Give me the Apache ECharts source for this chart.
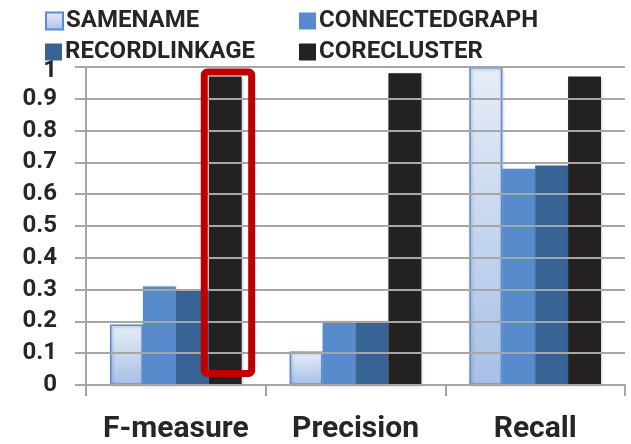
<!DOCTYPE html>
<html>
<head>
<meta charset="utf-8">
<script src="https://cdn.jsdelivr.net/npm/echarts@6/dist/echarts.min.js"></script>
<style>
  html, body { margin: 0; padding: 0; background: #ffffff; }
  #chart { width: 631px; height: 444px; }
</style>
</head>
<body>
<div id="chart"></div>
<script>
// Metrics on the x axis
const categories = ['F-measure', 'Precision', 'Recall'];

// Scores per method
const sameName       = [0.19, 0.105, 1.0];
const connectedGraph = [0.31, 0.20, 0.68];
const recordLinkage  = [0.30, 0.20, 0.69];
const coreCluster    = [0.97, 0.98, 0.97];

// Value axis ticks
const yTicks = ['0', '0.1', '0.2', '0.3', '0.4', '0.5', '0.6', '0.7', '0.8', '0.9', '1'];

// Bar emphasised with a red frame: F-measure of CORECLUSTER
const highlight = [[0, coreCluster[0]]];

const FONT = 'Roboto';
const TEXT = '#262626';
const GAP = 0.267;          // barCategoryGap as a fraction
const N_SERIES = 4;

const chart = echarts.init(document.getElementById('chart'), null, { renderer: 'canvas' });

const shadow = { shadowColor: 'rgba(0,0,0,0.25)', shadowBlur: 3, shadowOffsetX: 1, shadowOffsetY: 1 };

function legendAt(name, left, top) {
  return {
    data: [name], left: left, top: top, padding: 0,
    itemWidth: 17, itemHeight: 17, itemGap: 0,
    icon: 'rect', selectedMode: false,
    textStyle: { fontFamily: FONT, fontWeight: 'bold', fontSize: 24, color: TEXT, padding: [0, 0, 0, -2] }
  };
}

const option = {
  animation: false,
  backgroundColor: '#ffffff',
  legend: [
    legendAt('SAMENAME', 45, 9),
    legendAt('CONNECTEDGRAPH', 299, 9),
    legendAt('RECORDLINKAGE', 45, 40),
    legendAt('CORECLUSTER', 299, 40)
  ],
  grid: { left: 86, right: 6, top: 67, bottom: 59, containLabel: false },
  xAxis: {
    type: 'category',
    data: categories,
    axisLine: { show: true, lineStyle: { color: '#a6a6a6', width: 2 } },
    axisTick: { show: true, length: 11, lineStyle: { color: '#a6a6a6', width: 2 } },
    axisLabel: { interval: 0, fontFamily: FONT, fontWeight: 'bold', fontSize: 30, color: TEXT, margin: 29 },
    splitLine: { show: false }
  },
  yAxis: {
    type: 'value',
    z: 6,
    min: 0, max: 1, interval: 0.1,
    axisLine: { show: true, lineStyle: { color: '#a6a6a6', width: 2 } },
    axisTick: { show: true, length: 11, lineStyle: { color: '#a6a6a6', width: 2 } },
    axisLabel: {
      fontFamily: FONT, fontWeight: 'bold', fontSize: 24, color: TEXT, margin: 29,
      formatter: (v) => {
        const i = Math.round(v * 10);
        // the topmost label sits a little lower, clear of the legend
        return i === yTicks.length - 1 ? '{top|' + yTicks[i] + '}' : yTicks[i];
      },
      rich: {
        top: { fontFamily: FONT, fontWeight: 'bold', fontSize: 24, color: TEXT, padding: [8, 0, 0, 0] }
      }
    },
    splitLine: { show: true, lineStyle: { color: '#a6a6a6', width: 2 } }
  },
  series: [
    {
      name: 'SAMENAME', type: 'bar', data: sameName,
      barGap: '0%', barCategoryGap: (GAP * 100) + '%',
      itemStyle: Object.assign({
        color: new echarts.graphic.LinearGradient(0, 0, 0, 1, [
          { offset: 0, color: '#e6edf8' },
          { offset: 1, color: '#a7c0e5' }
        ]),
        borderColor: '#5b8bd0', borderWidth: 1.5
      }, shadow)
    },
    {
      name: 'CONNECTEDGRAPH', type: 'bar', data: connectedGraph,
      barGap: '0%', barCategoryGap: (GAP * 100) + '%',
      itemStyle: Object.assign({ color: '#578bcc' }, shadow)
    },
    {
      name: 'RECORDLINKAGE', type: 'bar', data: recordLinkage,
      barGap: '0%', barCategoryGap: (GAP * 100) + '%',
      itemStyle: Object.assign({ color: '#376395' }, shadow)
    },
    {
      name: 'CORECLUSTER', type: 'bar', data: coreCluster,
      barGap: '0%', barCategoryGap: (GAP * 100) + '%',
      itemStyle: Object.assign({ color: '#242122' }, shadow)
    },
    {
      // Red frame drawn around the emphasised bar, located from its own value
      type: 'custom',
      silent: true,
      z: 10,
      data: highlight,
      renderItem: function (params, api) {
        const cat = api.value(0);
        const top = api.coord([cat, api.value(1)]);
        const base = api.coord([cat, 0]);
        const band = api.size([1, 0])[0];
        const barW = band * (1 - GAP) / N_SERIES;
        const seriesIdx = 3;
        const left = top[0] - 2 * barW + seriesIdx * barW;
        const right = left + barW;
        return {
          type: 'rect',
          shape: {
            x: left - 4.5,
            y: top[1] - 4.5,
            width: (right + 10) - (left - 4.5),
            height: (base[1] - 11.5) - (top[1] - 4.5),
            r: 3
          },
          style: { fill: null, stroke: '#c00000', lineWidth: 7 }
        };
      }
    }
  ]
};

chart.setOption(option);
</script>
</body>
</html>
